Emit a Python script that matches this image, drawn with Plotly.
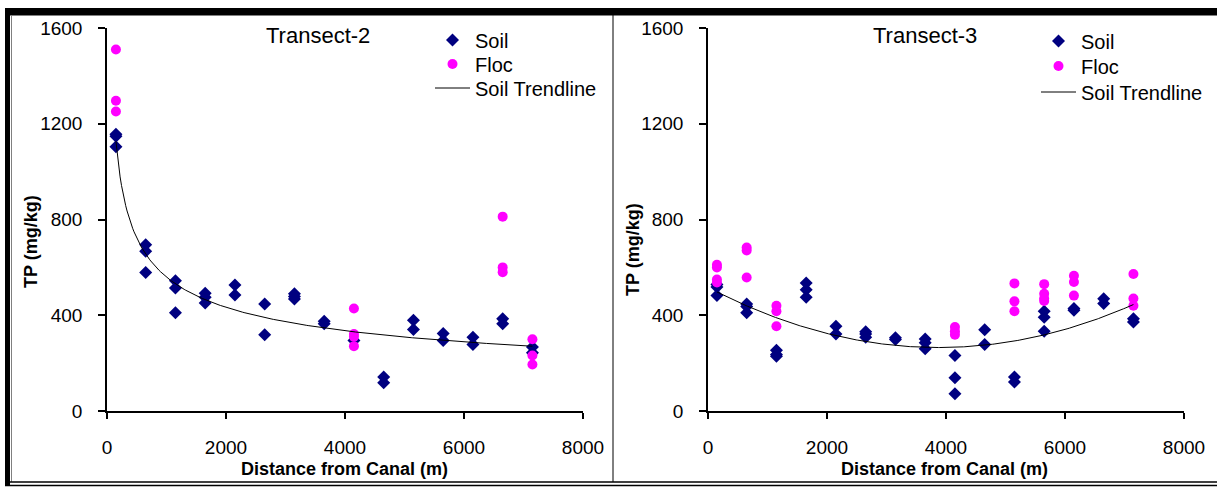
import numpy as np
import plotly.graph_objects as go

# ---------------- data ----------------
distance = [150, 650, 1150, 1650, 2150, 2650, 3150, 3650, 4150, 4650, 5150, 5650, 6150, 6650, 7150]

t2_soil = [[1156, 1148, 1104], [694, 667, 579], [544, 514, 410], [492, 475, 451],
           [526, 485], [447, 319], [490, 478, 468], [375, 365], [294],
           [142, 118], [379, 340], [324, 294], [308, 278], [385, 365], [267, 243]]
t2_floc = [[1510, 1296, 1251], [], [], [], [], [], [], [], [428, 322, 310, 271],
           [], [], [], [], [812, 600, 580], [300, 232, 194]]

t3_soil = [[528, 518, 483], [447, 437, 410], [254, 236, 229], [535, 507, 475],
           [354, 322], [331, 322, 308], [306, 299], [301, 285, 260], [232, 139, 72],
           [339, 278], [142, 121], [417, 392, 333], [428, 421], [469, 449], [385, 372]]
t3_floc = [[611, 600, 549, 537], [683, 671, 558], [440, 417, 354], [], [], [], [], [],
           [351, 333, 319], [], [533, 458, 417], [530, 490, 470, 460], [565, 539, 482],
           [], [572, 470, 440]]

x_ticks = [0, 2000, 4000, 6000, 8000]
y_ticks = [0, 400, 800, 1200, 1600]
titles = ["Transect-2", "Transect-3"]


def flatten(groups):
    xs, ys = [], []
    for d, vals in zip(distance, groups):
        for v in vals:
            xs.append(d)
            ys.append(v)
    return np.array(xs, float), np.array(ys, float)


W, H = 1217, 487
def px(x):
    return x / W
def py(y):
    return 1 - y / H

FONT = "Liberation Sans, Arial, sans-serif"
NAVY = "#000080"
MAG = "#FF00FF"

fig = go.Figure()

# ---- Transect-2 (power trendline) ----
sx, sy = flatten(t2_soil)
fx, fy = flatten(t2_floc)
b, a = np.polyfit(np.log(sx), np.log(sy), 1)
tx = np.linspace(sx.min(), sx.max(), 300)
ty = np.exp(a) * tx ** b

# ---- Transect-3 (2nd order polynomial trendline) ----
sx3, sy3 = flatten(t3_soil)
fx3, fy3 = flatten(t3_floc)
c = np.polyfit(sx3, sy3, 2)
tx3 = np.linspace(sx3.min(), sx3.max(), 300)
ty3 = np.polyval(c, tx3)

panels = [
    ("x", "y", (sx, sy), (fx, fy), (tx, ty), ["legend", "legend3", "legend4"]),
    ("x2", "y2", (sx3, sy3), (fx3, fy3), (tx3, ty3), ["legend2", "legend5", "legend6"]),
]
for xa, ya, soil, floc, trend, legs in panels:
    fig.add_trace(go.Scatter(x=soil[0], y=soil[1], mode="markers", name="Soil",
                             marker=dict(symbol="diamond", size=10, color=NAVY),
                             xaxis=xa, yaxis=ya, legend=legs[0]))
    fig.add_trace(go.Scatter(x=floc[0], y=floc[1], mode="markers", name="Floc",
                             marker=dict(symbol="circle", size=10, color=MAG),
                             xaxis=xa, yaxis=ya, legend=legs[1]))
    fig.add_trace(go.Scatter(x=trend[0], y=trend[1], mode="lines", name="Soil Trendline",
                             line=dict(color="black", width=1),
                             xaxis=xa, yaxis=ya, legend=legs[2]))

ydom = [py(411), py(28)]
xdoms = [[px(107), px(583)], [px(708), px(1184)]]

def xax(dom, anchor):
    return dict(domain=dom, anchor=anchor, range=[0, 8000], tickvals=x_ticks,
                ticktext=[str(v) for v in x_ticks], showgrid=False, zeroline=False,
                showline=True, linecolor="black", linewidth=2, ticks="outside",
                ticklen=6, tickwidth=1.5, tickcolor="black", ticklabelstandoff=12,
                tickfont=dict(family=FONT, size=19, color="black"), automargin=False)

def yax(anchor):
    return dict(domain=ydom, anchor=anchor, range=[0, 1600], tickvals=y_ticks,
                ticktext=[str(v) for v in y_ticks], showgrid=False, zeroline=False,
                showline=True, linecolor="black", linewidth=1.5, ticks="outside",
                ticklen=7, tickwidth=1.5, tickcolor="black", ticklabelstandoff=12,
                tickfont=dict(family=FONT, size=19, color="black"), automargin=False)

def legend_at(xpix, ypix):
    return dict(x=px(xpix), y=py(ypix), xanchor="left", yanchor="middle",
                bgcolor="rgba(0,0,0,0)", borderwidth=0, itemwidth=35,
                tracegroupgap=0, font=dict(family=FONT, size=20, color="black"))

annotations = []
for i, (t, cx, ytc, xtc, ytx) in enumerate([
        ("Transect-2", 318, 36, 344, 31),
        ("Transect-3", 925, 36, 944, 633)]):
    annotations.append(dict(text=t, x=px(cx), y=py(ytc), xref="paper", yref="paper",
                            showarrow=False, xanchor="center", yanchor="middle",
                            font=dict(family=FONT, size=22, color="black")))
    annotations.append(dict(text="<b>Distance from Canal (m)</b>", x=px(xtc), y=py(469),
                            xref="paper", yref="paper", showarrow=False,
                            xanchor="center", yanchor="middle",
                            font=dict(family=FONT, size=18, color="black")))
    annotations.append(dict(text="<b>TP (mg/kg)</b>", x=px(ytx), y=py(242 + 8 * i),
                            xref="paper", yref="paper", showarrow=False, textangle=-90,
                            xanchor="center", yanchor="middle",
                            font=dict(family=FONT, size=18, color="black")))

def rect(x0, y0, x1, y1, color):
    return dict(type="rect", xref="paper", yref="paper", x0=px(x0), x1=px(x1),
                y0=py(y1), y1=py(y0), fillcolor=color, line=dict(width=0), layer="above")

def line(x0, y0, x1, y1, color, w):
    return dict(type="line", xref="paper", yref="paper", x0=px(x0), x1=px(x1),
                y0=py(y0), y1=py(y1), line=dict(color=color, width=w), layer="above")

shapes = [
    rect(5, 8, 1217, 15, "black"),
    line(10, 15.5, 1217, 15.5, "#808080", 1),
    rect(5, 8, 10, 486, "black"),
    line(11.5, 15, 11.5, 482, "#808080", 1),
    line(10, 482, 1217, 482, "black", 1.5),
    line(5, 485.5, 1217, 485.5, "black", 1.5),
    line(613, 15, 613, 482, "black", 1),
]

fig.update_layout(
    width=W, height=H, margin=dict(l=0, r=0, t=0, b=0),
    paper_bgcolor="white", plot_bgcolor="white",
    xaxis=xax(xdoms[0], "y"), yaxis=yax("x"),
    xaxis2=xax(xdoms[1], "y2"), yaxis2=yax("x2"),
    legend=legend_at(430, 40), legend3=legend_at(430, 64), legend4=legend_at(430, 88),
    legend2=legend_at(1036, 41), legend5=legend_at(1036, 66), legend6=legend_at(1036, 92),
    annotations=annotations, shapes=shapes, showlegend=True,
)

fig.write_html("out.html")
